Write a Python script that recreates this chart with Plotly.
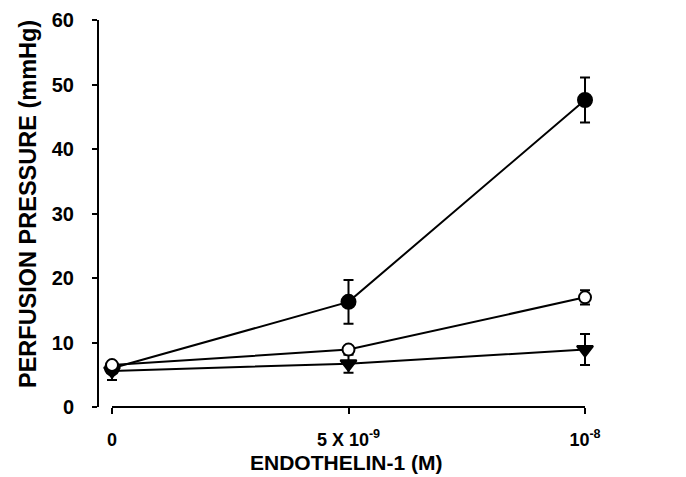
import plotly.graph_objects as go

# Endothelin-1 concentration (units of 1e-9 M)
conc = [0, 5, 10]
tick_labels = ["0", "5 X 10<sup>-9</sup>", "10<sup>-8</sup>"]
y_ticks = [0, 10, 20, 30, 40, 50, 60]

filled_mean = [6.0, 16.3, 47.6]
filled_err = [0.4, 3.4, 3.5]
open_mean = [6.5, 8.9, 17.0]
open_err = [0.4, 0.5, 1.1]
tri_mean = [5.6, 6.7, 8.9]
tri_err = [1.4, 1.4, 2.4]

FONT = "Liberation Sans, Arial, Helvetica, sans-serif"

fig = go.Figure()

def add(y, err, symbol, fill, size):
    fig.add_trace(go.Scatter(
        x=conc, y=y, mode="lines+markers",
        line=dict(color="black", width=2),
        marker=dict(symbol=symbol, size=size, color=fill,
                    line=dict(color="black", width=2)),
        error_y=dict(type="data", array=err, visible=True,
                     color="black", thickness=2, width=5),
        cliponaxis=False, showlegend=False,
    ))

add(filled_mean, filled_err, "circle", "black", 14)
add(tri_mean, tri_err, "triangle-down", "black", 14)
add(open_mean, open_err, "circle", "white", 12)

# x-axis baseline spanning only the data range
fig.add_shape(type="line", xref="x", yref="paper",
              x0=conc[0], x1=conc[-1], y0=0, y1=0,
              line=dict(color="black", width=2))

xtickfont = dict(family=FONT, size=18, color="black", weight="bold")
ytickfont = dict(family=FONT, size=20, color="black", weight="bold")

fig.update_layout(
    width=678, height=469,
    margin=dict(l=91, r=86, t=12, b=70),
    paper_bgcolor="white", plot_bgcolor="white",
    font=dict(family=FONT, color="black", size=18),
    xaxis=dict(range=[-0.2748, 10.317], showgrid=False, zeroline=False,
               showline=False, tickvals=conc, ticktext=tick_labels,
               ticks="outside", ticklen=6, tickwidth=2, tickcolor="black",
               ticklabelstandoff=10, tickfont=xtickfont, automargin=False),
    yaxis=dict(range=[0, 60], showgrid=False, zeroline=False,
               showline=True, linewidth=2, linecolor="black",
               tickvals=y_ticks,
               ticks="outside", ticklen=5, tickwidth=2, tickcolor="black",
               ticklabelstandoff=14, tickfont=ytickfont, automargin=False),
    annotations=[
        dict(text="PERFUSION PRESSURE (mmHg)", xref="paper", yref="paper",
             x=-0.1417, y=0.5245, xanchor="center", yanchor="middle",
             textangle=-90, showarrow=False,
             font=dict(family=FONT, size=23.5, weight="bold", color="black")),
        dict(text="ENDOTHELIN-1 (M)", xref="paper", yref="paper",
             x=0.494, y=-0.1447, xanchor="center", yanchor="middle",
             showarrow=False,
             font=dict(family=FONT, size=21, weight="bold", color="black")),
    ],
)

fig.write_html("out.html")
